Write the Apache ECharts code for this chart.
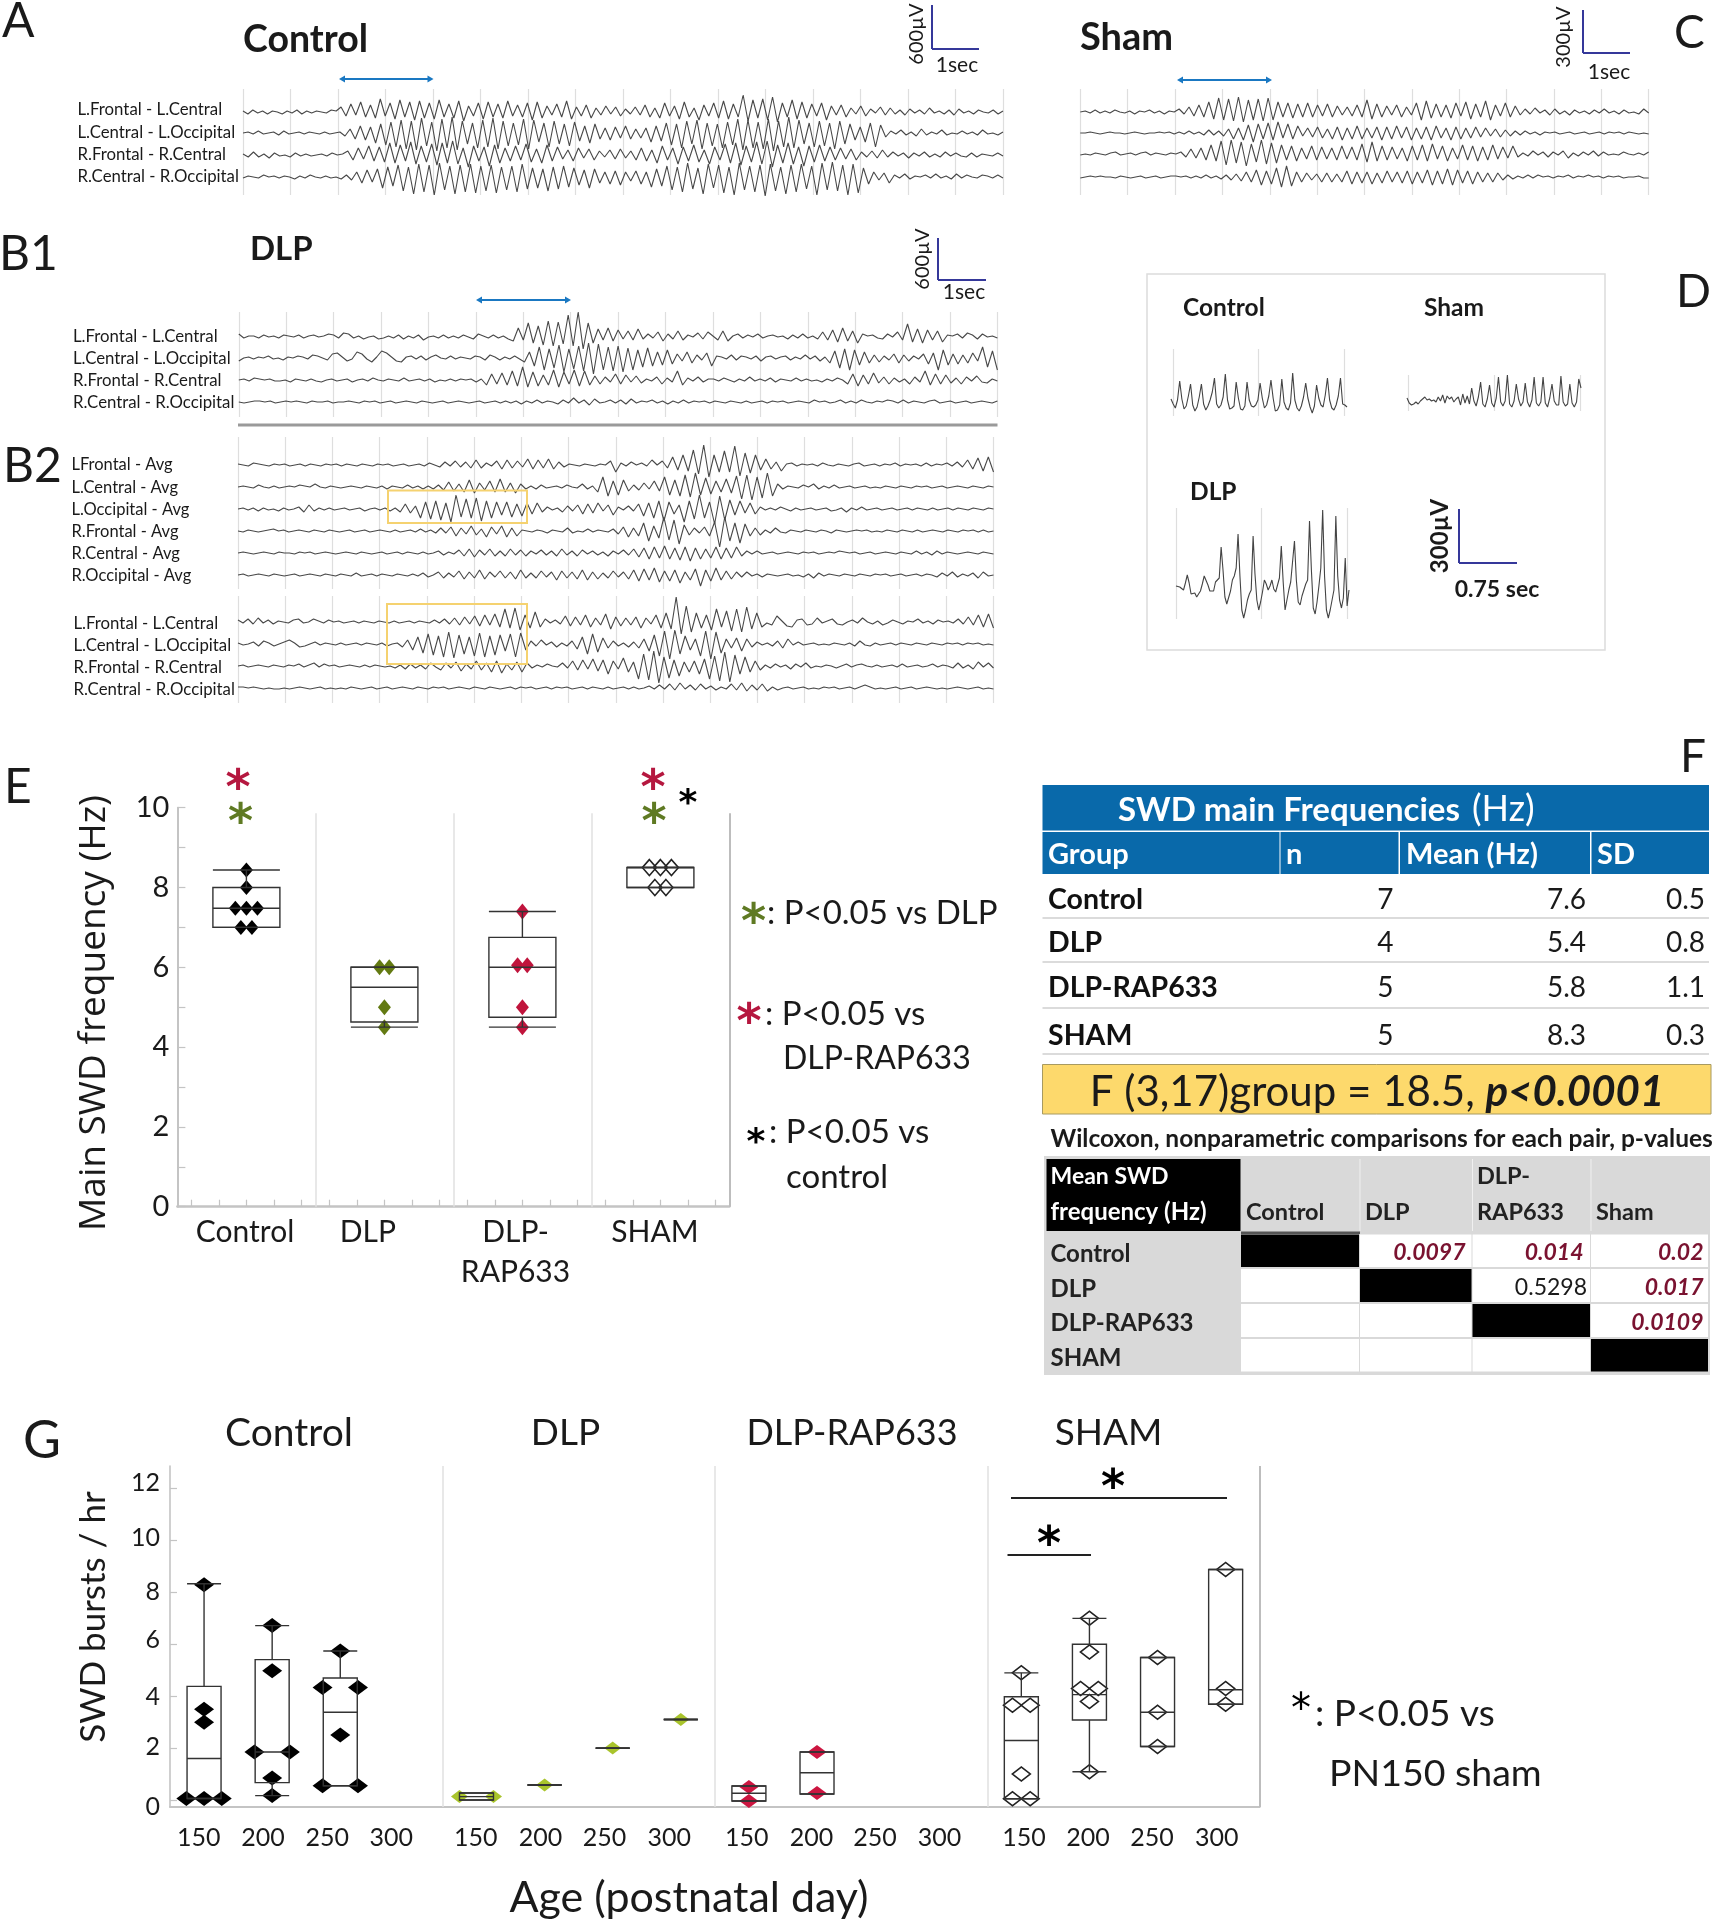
<!DOCTYPE html>
<html><head><meta charset="utf-8">
<style>html,body{margin:0;padding:0;background:#fff}#c{width:1724px;height:1920px}</style>
<script src="https://cdn.jsdelivr.net/npm/echarts@6/dist/echarts.min.js"></script></head>
<body><div id="c"></div>
<script>
// ---------- EEG traces, values read by eye (1 unit = 1 px of amplitude, up is positive) ----------
const aLFC=[1,-2,2,-1,1,-2,1,0,-2,1,-1,2,-2,1,-1,1,0,-1,2,1,5,-4,8,-3,10,-5,7,-6,13,-4,9,-7,12,-5,10,-8,11,-6,9,-7,12,-5,8,-6,11,-9,6,-4,9,-7,10,-5,8,-6,11,-4,7,-5,9,-8,10,-6,6,-3,8,-5,11,-7,5,-4,7,-6,4,-3,6,-2,5,-4,3,-2,5,-3,7,-5,4,-6,9,-4,6,-7,10,-5,4,-8,7,-4,9,-6,11,-7,8,-5,17,-9,12,-6,13,-8,15,-10,9,-5,12,-7,10,-6,8,-4,9,-8,6,-3,7,-5,4,-2,6,-4,3,-1,5,-3,4,-2,2,-3,3,-1,2,-2,4,-1,1,-2,2,-3,3,-1,1,-2,2,0,-1,2,-2,1];
const aLCO=[0,1,-1,2,-1,0,1,-2,2,-1,0,1,-1,1,0,-1,1,-1,0,1,-3,4,-6,7,-7,6,-10,9,-12,11,-14,13,-16,12,-17,15,-13,11,-18,14,-15,16,-17,12,-11,10,-15,13,-14,15,-16,12,-13,10,-12,14,-16,13,-9,10,-14,12,-11,9,-13,11,-8,7,-10,9,-6,5,-7,6,-5,7,-6,4,-5,5,-9,7,-8,10,-12,9,-15,12,-11,13,-16,10,-13,9,-15,11,-12,14,-17,13,-15,11,-16,14,-18,12,-14,16,-15,13,-11,10,-14,12,-13,10,-16,12,-11,9,-7,6,-9,10,-14,8,-4,2,-1,3,-2,1,-3,4,-2,1,-1,3,-2,0,-1,2,-1,1,-2,3,-1,0,-2,1];
const aRFC=[1,-2,3,-2,1,-3,2,-1,0,-2,2,-1,1,-1,0,1,-1,2,0,1,4,-5,7,-4,9,-6,8,-7,12,-8,10,-6,13,-9,9,-7,11,-10,12,-8,14,-9,7,-12,9,-6,8,-11,10,-8,7,-6,9,-5,11,-7,6,-8,10,-6,8,-4,5,-6,7,-3,6,-5,4,-2,5,-4,6,-3,4,-5,7,-6,5,-8,9,-5,7,-9,8,-6,10,-7,5,-9,8,-5,11,-8,12,-10,9,-7,13,-9,14,-12,10,-8,12,-9,8,-11,9,-7,10,-6,8,-5,7,-4,6,-5,3,-2,4,-3,5,-2,3,-1,2,-3,2,-1,3,-2,1,-2,3,-1,2,-1,-2,2,-2,1,0,-1,2,-1];
const aRCO=[-1,1,0,-1,2,0,1,-1,1,0,-2,1,-1,2,0,-1,1,-1,0,-2,2,-3,5,-6,7,-5,8,-11,10,-9,12,-14,10,-17,13,-15,12,-18,14,-13,11,-17,12,-15,13,-16,11,-14,12,-16,10,-13,11,-15,13,-12,9,-11,8,-14,10,-12,11,-10,9,-8,7,-11,8,-6,5,-7,6,-8,5,-4,6,-7,5,-10,8,-9,11,-13,10,-15,14,-12,9,-17,13,-11,12,-16,10,-18,14,-13,11,-15,12,-19,13,-14,10,-17,12,-15,13,-12,11,-18,14,-13,15,-14,12,-18,13,-16,9,-7,5,-3,4,-6,2,-1,3,-2,1,0,2,-1,3,-1,1,-2,3,-1,2,0,-1,2,1,-1,2,-1];
const cLFC=[0,1,-1,2,-1,1,-1,2,0,-1,1,-2,1,0,2,-1,1,-2,1,0,3,-2,5,-4,7,-5,10,-7,14,-8,13,-9,15,-10,12,-8,13,-9,14,-8,10,-5,9,-6,8,-5,9,-5,7,-4,8,-5,6,-3,5,-4,7,-5,12,-7,8,-5,6,-3,7,-5,5,-3,9,-8,11,-6,8,-5,7,-6,9,-4,10,-7,8,-5,11,-8,7,-4,9,-5,6,-3,3,-2,4,-1,2,-3,3,-2,1,-3,2,-1,1,-2,2,-1,3,-1,1,-2,2,-1,0,-2,3,-1];
const cLCO=[0,0,1,0,-1,0,1,0,0,-1,0,1,0,-1,0,0,1,0,1,-1,1,-1,2,-1,1,-2,3,-2,2,-3,4,-6,5,-7,8,-9,9,-6,10,-7,11,-5,9,-6,7,-3,5,-4,6,-5,4,-6,6,-7,5,-6,7,-6,5,-5,6,-7,6,-6,7,-5,6,-7,5,-6,6,-7,7,-5,5,-7,6,-6,5,-5,6,-4,5,-3,4,-4,3,-3,2,-2,2,-1,1,-2,1,0,1,-1,0,1,-1,0,1,-1,0,1,-1,1,0,1,-1,1,0,-1,0,-1];
const cRFC=[-1,0,-1,1,0,-1,1,2,-1,0,1,-1,1,2,-1,1,0,-1,1,0,2,-3,5,-4,6,-6,9,-7,13,-11,14,-9,12,-12,10,-8,14,-10,11,-9,9,-6,8,-7,6,-5,8,-6,7,-5,6,-6,8,-5,7,-6,10,-8,12,-7,8,-6,7,-5,6,-7,8,-6,9,-7,10,-5,8,-7,6,-5,9,-6,8,-7,7,-6,9,-5,7,-4,8,-3,1,-2,3,-1,2,-3,2,-1,3,-4,1,-2,2,-1,3,-2,2,-1,0,-1,2,0,-1,1,-1,2];
const cRCO=[-1,0,1,0,1,0,0,-1,1,0,-1,0,1,-1,0,1,-1,0,1,1,0,1,-1,1,-1,2,-1,1,-2,2,-3,3,-4,5,-5,7,-8,6,-7,9,-10,11,-9,5,-5,4,-3,3,-5,4,-5,3,-5,6,-7,5,-6,5,-7,4,-6,6,-5,5,-6,6,-7,5,-6,7,-8,6,-7,8,-8,7,-6,6,-7,5,-5,4,-5,4,-3,2,-2,1,-1,2,-1,2,0,1,-1,1,0,2,-1,1,0,2,0,1,-1,1,0,1,-1,0,0,1,-1,-1];
const b1LFC=[3,-1,1,1,-1,2,0,1,-1,2,1,0,2,-1,1,2,0,1,3,2,-1,4,3,-1,1,-2,0,1,-2,-1,1,-1,2,-2,1,-1,2,-3,0,1,-1,2,-1,1,-1,2,0,-2,3,1,-1,2,-1,1,-2,-4,9,-3,14,-6,11,-8,16,-9,15,-7,22,-9,25,-12,14,-6,8,-3,9,-4,7,-2,6,-3,8,-2,3,-1,5,-4,3,-2,6,-3,2,0,4,-2,5,1,-3,6,-4,1,3,-1,2,0,3,-1,1,2,0,1,-2,2,-1,3,-1,1,-2,5,-3,7,-5,9,-4,6,-6,3,1,2,-1,-2,3,0,5,-3,13,-5,8,-6,7,-3,6,-5,2,1,3,-1,4,2,-2,3,0,1,-1];
const b1LCO=[-3,0,1,-1,1,0,2,-1,0,-2,1,0,2,1,-1,3,2,0,-2,4,5,1,-3,-1,6,4,-1,-4,1,7,5,1,-3,-4,1,2,-1,2,-2,1,3,0,-1,2,-1,1,0,-1,2,1,-2,3,1,-2,1,-1,2,-1,-4,6,-8,11,-12,9,-10,13,-14,9,-11,12,-13,15,-16,14,-12,11,-13,12,-14,10,-12,8,-9,10,-8,6,-7,8,-6,4,-3,6,-5,3,-2,5,-8,2,1,-1,3,-2,2,1,-1,2,-3,1,2,-1,1,2,-2,1,-1,3,-1,2,-3,1,-5,7,-10,9,-12,8,-7,6,-5,3,-4,2,-2,4,-5,3,-3,2,-1,4,-6,5,-12,8,-7,4,-6,3,-5,5,-3,11,-9,7,-12];
const b1RFC=[0,1,-1,2,1,0,1,-1,-1,0,-2,1,0,-1,1,-1,-2,0,1,-1,0,1,-2,0,1,-1,2,0,-1,1,0,-1,2,-1,0,1,-1,1,-2,0,-1,1,-1,1,0,1,-2,1,-5,6,-4,7,-5,9,-6,13,-7,8,-6,5,-5,10,-7,8,-4,10,-6,9,-5,4,-4,3,-2,6,-4,5,-2,4,-3,1,-1,3,-4,2,-2,9,-5,2,-1,3,-2,1,1,-1,2,0,-2,1,-1,3,-1,1,-1,2,-2,1,0,-1,2,-1,1,-1,0,-2,1,-1,2,0,-4,6,-6,5,-4,7,-3,3,-4,2,-2,1,-4,3,-2,9,-5,6,-4,5,-3,2,-4,3,-1,4,-2,-3,1,-1];
const b1RCO=[0,-1,0,1,1,0,1,-1,0,1,0,1,0,-1,1,0,0,1,-1,0,0,1,0,-1,1,0,1,-1,0,1,-1,0,1,0,-1,1,0,-1,0,1,-1,0,1,0,-1,0,1,-1,0,1,-1,1,-1,1,-2,1,-1,2,-1,1,0,-2,2,-1,4,-1,2,-3,3,-1,0,2,-1,2,-2,3,-1,1,0,2,-1,1,-2,1,-1,2,-1,1,0,1,-1,1,0,-1,1,0,-1,1,-1,0,1,-1,1,0,1,-1,0,1,0,-1,2,0,1,-1,0,2,-1,1,-1,2,0,-1,1,0,2,1,-1,2,-1,1,0,-1,1,2,-1,0,1,-1,0,1,-1,0,1,0,-1,1];
const b2a1=[1,0,-1,2,1,0,-1,1,0,1,-1,0,1,-1,1,0,-1,1,0,1,-1,1,0,-1,1,0,-1,1,0,1,-1,0,1,-1,0,1,-1,2,0,-2,3,-1,4,-2,3,-3,5,-3,2,-1,4,-4,5,-3,4,-2,6,-4,5,-3,6,-4,3,-2,1,0,-1,1,0,-1,1,0,4,-7,2,-1,3,0,2,-1,5,0,4,-3,8,-5,10,-6,15,-9,20,-12,10,-7,14,-7,19,-11,12,-8,10,-5,6,-4,3,-6,1,2,-1,1,0,1,-1,2,0,-1,1,0,-1,1,2,-1,0,1,-1,1,0,2,-1,1,0,1,-1,2,-1,1,0,2,-1,3,-2,5,-4,7,-6,8,-7];
const b2a2=[0,1,0,-1,2,0,-1,1,-1,0,1,0,2,1,0,3,0,-1,1,0,-1,0,1,0,-1,1,0,-1,1,-2,1,0,-1,2,-1,1,-2,1,-2,2,-3,5,-4,3,-5,7,-6,4,-3,6,-5,8,-5,4,-6,3,-2,1,-2,2,-1,0,1,-1,2,0,-1,3,-2,1,-5,10,-9,6,-8,7,-4,2,-3,4,-2,6,-4,10,-8,7,-9,12,-10,14,-8,9,-7,6,-5,8,-6,11,-12,12,-13,10,-11,14,-9,3,-2,1,0,-1,2,0,3,-2,1,-1,2,-1,0,1,-1,0,1,-1,0,-1,1,0,-1,1,0,-1,1,0,1,-1,0,1,-1,0,1,0,-1,1,0,-1,1,0];
const b2a3=[0,1,-1,1,-2,1,-1,0,-2,1,-1,0,2,-3,4,-2,1,-1,1,-1,0,1,-1,0,1,-2,0,1,-1,1,-2,1,-3,5,-4,3,-9,7,-10,8,-11,6,-13,14,-8,10,-9,11,-12,8,-9,7,-6,7,-8,5,-7,6,-5,6,-3,2,-1,1,-3,3,-2,4,-5,5,-4,6,-2,4,-6,2,-1,3,-2,5,-7,6,-9,8,-12,7,-5,4,-13,8,-10,14,-9,7,-15,13,-11,9,-6,8,-4,6,-5,2,-1,1,-1,2,0,-2,1,-1,0,1,-1,0,1,-2,-1,1,-3,1,-1,2,-1,0,1,-1,0,1,-1,0,1,-1,1,0,-1,1,-1,0,1,-1,1,0,-1,1,0,-1,1,0];
const b2a4=[0,-1,1,0,-1,0,1,2,0,1,-1,0,1,0,-1,1,0,-1,1,0,-1,0,1,-1,0,1,-1,0,1,0,-1,1,-1,0,1,-1,2,-1,1,-2,3,-2,4,-5,3,-3,5,-4,2,-6,4,-3,5,-6,3,-5,1,0,-1,1,0,-2,1,0,-1,3,-2,0,-1,2,-1,1,0,-1,2,-3,4,-6,3,-5,8,-10,5,-7,14,-9,11,-13,6,-4,3,-2,4,-5,9,-16,14,-10,8,-12,7,-5,3,-4,1,-2,3,-1,-2,1,0,-1,1,0,-1,1,0,-2,1,0,-1,0,1,0,1,-1,0,-1,1,0,-1,1,0,-1,1,-1,0,1,0,-1,1,0,-1,1,0,1,-1,1,-1,0];
const b2a5=[0,1,0,-1,0,1,0,-1,1,0,0,-1,1,0,1,-1,0,1,0,-1,0,1,0,-1,1,0,-1,0,1,-1,0,1,-1,1,0,-1,1,-1,0,2,-2,1,-1,3,-3,4,-4,3,-2,4,-3,2,-3,4,-2,3,-3,2,-1,3,-2,2,-3,4,-2,2,-3,3,-1,2,-2,1,-3,2,-1,3,-2,4,-4,5,-6,6,-5,7,-6,5,-7,6,-8,5,-6,4,-5,6,-6,5,-5,6,-3,2,-1,2,-1,0,1,-1,0,1,0,-1,1,0,1,-1,0,1,0,2,1,0,1,-1,0,1,-1,0,1,0,-1,1,0,-1,2,-1,1,-2,2,-1,1,0,-1,0,1,0,-1,1,0,-1];
const b2a6=[0,1,-1,0,1,0,-1,1,0,-1,0,1,-1,0,1,0,-1,1,0,-1,1,0,-1,2,-1,0,1,-1,1,0,-1,1,0,-1,1,-1,2,-2,0,3,-3,2,-2,4,-4,3,-3,5,-4,3,-2,4,-3,3,-4,5,-3,2,-3,4,-2,3,-5,4,-3,3,-4,5,-5,3,-4,2,-3,4,-2,3,-4,5,-6,6,-5,7,-7,4,-6,5,-8,3,-5,6,-11,5,-6,7,-5,4,-4,3,-2,3,-1,1,-2,1,0,-1,0,1,-1,0,-2,1,-3,2,-1,1,0,-1,1,0,-1,1,0,-1,1,0,1,-1,0,1,-1,0,1,-1,1,0,-2,2,-1,3,-2,1,-1,2,-3,3,-1,0];
const b2b1=[2,-1,3,-2,4,-1,2,-2,1,0,-1,2,3,-1,0,3,1,-1,2,0,1,-1,0,1,-1,1,0,-1,1,0,-1,1,-1,0,1,-1,1,0,-1,2,-1,3,-2,4,-3,5,-2,6,-4,7,-3,8,-5,13,-6,14,-8,7,-6,10,-5,3,-1,2,-2,6,-4,5,-3,7,-5,4,-3,8,-7,5,-4,4,-3,5,-6,4,-2,7,-6,9,-7,25,-12,16,-10,9,-6,7,-8,13,-5,11,-9,13,-10,15,-7,9,-5,-1,-3,6,1,-4,-5,2,3,-3,-2,4,-1,1,3,-2,-3,0,2,-1,4,0,-2,1,-3,-1,2,0,-2,1,0,3,-1,1,-2,2,0,1,-1,3,-2,5,-3,7,-5,8,-6];
const b2b2=[1,-1,0,2,-2,3,1,-2,0,2,4,1,-3,-2,0,2,-1,1,0,-1,1,-1,0,1,-1,1,0,-1,1,-2,0,1,-3,4,-6,7,-9,10,-11,8,-13,12,-14,9,-10,7,-12,11,-13,8,-11,9,-7,10,-13,11,-6,3,-2,4,-1,2,-3,1,-2,3,-5,7,-10,10,-8,6,-4,3,-2,1,-3,2,-4,5,-7,9,-12,13,-15,14,-10,8,-6,5,-12,13,-15,12,-9,5,-4,6,-7,5,-3,2,-1,1,-2,3,-4,5,-1,2,-1,0,1,-1,0,-1,1,0,-1,1,-2,3,-1,-2,1,-1,0,1,-1,1,0,-1,1,0,-1,1,0,-1,1,0,1,-1,1,0,1,-1,0,-1];
const b2b3=[0,1,-1,0,1,0,-1,1,0,-1,1,0,2,-1,1,3,-1,2,0,1,-1,0,1,0,-1,1,-1,1,0,-1,0,-2,1,-3,2,-2,1,-3,3,-1,-4,3,-2,4,-5,2,-3,5,-4,3,-6,5,-7,2,-4,4,-6,3,-2,1,-1,2,0,-1,3,-2,5,-4,6,-3,7,-5,6,-8,5,-3,8,-6,4,-13,12,-14,15,-17,9,-12,6,-10,4,-6,5,-8,7,-13,10,-15,14,-16,11,-8,9,-6,5,-4,1,-2,2,-1,1,-3,2,-1,3,-2,0,-1,1,0,-2,0,2,-1,1,2,0,-1,1,-1,0,1,-1,2,-1,0,1,-1,0,2,-1,1,0,-2,3,-2,1,-3,4,-1,3,-2];
const b2b4=[1,1,0,1,0,-1,0,-1,-1,0,-1,0,1,0,-1,0,1,-1,0,-1,0,-1,1,0,-1,0,1,-1,0,1,-1,0,1,0,-1,1,0,-1,1,0,1,-1,0,1,0,-1,1,0,-1,1,0,-1,0,1,-1,1,0,1,-1,0,1,-1,1,0,1,-1,0,1,-1,1,0,-1,1,-1,0,1,-1,1,-1,0,2,-1,3,-1,4,-2,5,-1,3,-2,4,-1,2,-2,1,-1,4,-2,5,-3,3,-2,4,-3,1,-2,0,1,-1,0,1,-1,0,-1,1,0,1,-1,0,1,-1,1,3,1,-1,0,-1,0,1,-1,0,1,-1,0,1,0,-1,0,-1,0,1,0,-1,0,1,-1,0,-1];
const dControl=[3,-2,-6,2,21,3,-7,-4,6,18,-3,-9,-5,5,18,-2,-8,-4,2,10,24,-2,-6,-3,5,28,2,-7,-6,-4,20,4,-7,-8,-4,20,2,-4,-5,-3,2,19,4,-6,-3,6,22,4,-9,-8,-3,23,0,-6,-8,-1,29,2,-6,-9,-4,5,19,4,-5,-11,-4,17,4,-3,-5,7,24,2,-6,-8,-3,6,24,-2,-3,-5];
const dSham=[2,-3,-5,-4,-2,-4,-1,1,3,0,1,-1,0,-2,3,-1,5,-3,4,1,3,-2,1,3,-5,6,-3,4,-4,12,-1,-6,3,18,-4,-7,1,15,-3,-7,2,23,-2,-6,-1,25,-4,-7,-1,16,1,-6,-2,17,-2,-7,0,23,-3,-6,-2,23,-3,-7,2,16,-1,-5,-5,24,-2,-6,-4,16,-3,-7,-2,21,12];
const dDLP=[2,0,1,-1,-2,5,13,5,-6,-8,-5,-9,-6,-3,4,12,13,3,-3,-2,-3,6,8,10,41,18,-9,-16,-14,-3,8,12,20,54,12,-22,-30,-22,-12,-6,-2,52,14,-12,-22,-14,-4,8,4,-2,2,8,-1,-4,-2,10,42,6,-22,-12,-2,6,4,47,8,-14,-17,-8,-2,4,8,67,18,-20,-26,-14,2,20,78,12,-22,-30,-22,-12,-2,72,12,-12,-20,-10,30,-18,-2];
// ---------- Panel E: main SWD frequency ----------
const eCategories=['Control','DLP','DLP-\nRAP633','SHAM'];
// x, low whisker, Q1, median, Q3, high whisker
const eBoxes=[[0.5,7.0,7.0,7.48,8.0,8.44],[1.5,4.5,4.63,5.5,6.0,6.0],[2.5,4.5,4.75,6.0,6.75,7.4],[3.5,8.0,8.0,8.5,8.5,8.5]];
const eControl=[[0.5,8.44],[0.5,8.0],[0.42,7.48],[0.5,7.48],[0.58,7.48],[0.46,7.0],[0.54,7.0]];
const eDLP=[[1.465,6.0],[1.535,6.0],[1.5,5.0],[1.5,4.5]];
const eRAP=[[2.465,6.05],[2.535,6.05],[2.5,7.4],[2.5,5.0],[2.5,4.5]];
const eSHAM=[[3.42,8.5],[3.5,8.5],[3.58,8.5],[3.46,8.0],[3.54,8.0]];
// ---------- Panel G: SWD bursts per hour ----------
const gAgeLabels=['150','200','250','300'];
const gGroups=['Control','DLP','DLP-RAP633','SHAM'];
const gYLabels=['0','2','4','6','8','10','12'];
const gBoxes=[[0.5,0.06,0.06,1.6,4.38,8.33],[1.5,0.17,0.67,1.85,5.41,6.72],[2.5,0.55,0.55,3.38,4.7,5.74],
 [4.5,0,0,0.13,0.27,0.27],[5.5,0.58,0.58,0.58,0.58,0.58],[6.5,2,2,2,2,2],[7.5,3.1,3.1,3.1,3.1,3.1],
 [8.5,-0.04,-0.04,0.26,0.54,0.54],[9.5,0.23,0.23,1.05,1.85,1.85],
 [12.5,0.05,0.05,2.29,3.98,4.9],[13.5,1.09,3.08,4.06,6.0,7.0],[14.5,2.06,2.06,3.38,5.49,5.49],[15.5,3.69,3.69,4.25,8.88,8.88]];
const gControl=[[0.5,8.29],[0.5,3.5],[0.5,3.0],[0.24,0.06],[0.5,0.06],[0.76,0.06],[1.5,6.72],[1.5,4.98],[1.24,1.85],[1.76,1.85],[1.5,0.85],[1.5,0.17],[2.5,5.74],[2.24,4.33],[2.76,4.33],[2.5,2.5],[2.24,0.55],[2.76,0.55]];
const gDLP=[[4.25,0.13],[4.75,0.13],[5.5,0.58],[6.5,2.0],[7.5,3.1]];
const gRAP=[[8.5,0.5],[8.5,-0.04],[9.5,1.85],[9.5,0.27]];
const gSHAM=[[12.5,4.9],[12.37,3.65],[12.63,3.65],[12.5,1.0],[12.37,0.05],[12.63,0.05],[13.5,7.0],[13.5,5.7],[13.37,4.3],[13.63,4.3],[13.5,3.8],[13.5,1.09],[14.5,5.49],[14.5,3.38],[14.5,2.06],[15.5,8.88],[15.5,4.3],[15.5,3.69]];
// ---------- Panel F tables ----------
const fHeaders=['Group','n','Mean (Hz)','SD'];
const fGroups=['Control','DLP','DLP-RAP633','SHAM'];
const fN=['7','4','5','5'];
const fMean=['7.6','5.4','5.8','8.3'];
const fSD=['0.5','0.8','1.1','0.3'];
const wRows=['Control','DLP','DLP-RAP633','SHAM'];
const wCells=[[null,'0.0097','0.014','0.02'],[null,null,'0.5298','0.017'],[null,null,null,'0.0109'],[null,null,null,null]];
const wSignificant=[[0,1,1,1],[0,0,0,1],[0,0,0,1],[0,0,0,0]];

// ---------- layout ----------
const FONT='Lato', INK='#1a1a1a', BAR='#35389a', ARROW='#1a78c2', UP=Math.PI/2;
const g=[], grids=[], xAxes=[], yAxes=[], series=[];
function txt(t,x,y,size,o={}){g.push({type:'text',x,y,rotation:o.rot||0,z:50,style:{text:t,fontFamily:o.font||FONT,fontSize:size,fontWeight:o.w||'normal',fontStyle:o.it||'normal',fill:o.c||INK,textAlign:o.a||'left',textVerticalAlign:'middle',rich:o.rich}});}
function rect(x,y,w,h,fill,stroke,lw){g.push({type:'rect',z:5,shape:{x,y,width:w,height:h},style:{fill,stroke:stroke||null,lineWidth:lw||0}});}
function line(x1,y1,x2,y2,c,w,z){g.push({type:'line',z:z||20,shape:{x1,y1,x2,y2},style:{stroke:c,lineWidth:w}});}
function arrow(x1,x2,y){line(x1+4,y,x2-4,y,ARROW,2);
 g.push({type:'polygon',z:20,shape:{points:[[x1,y],[x1+6,y-3.5],[x1+6,y+3.5]]},style:{fill:ARROW}});
 g.push({type:'polygon',z:20,shape:{points:[[x2,y],[x2-6,y-3.5],[x2-6,y+3.5]]},style:{fill:ARROW}});}
function star(x,y,size,c,w){txt('*',x,y,size,{font:'DejaVu Sans',c,w:w||'normal',a:'center'});}
function addGrid(l,t,w,h){grids.push({left:l,top:t,width:w,height:h,containLabel:false});return grids.length-1;}
function panelLines(l,t,w,h,n){const i=addGrid(l,t,w,h);
 xAxes.push({type:'value',gridIndex:i,min:0,max:n,interval:1,axisLine:{show:false},axisTick:{show:false},axisLabel:{show:false},splitLine:{show:true,lineStyle:{color:'#dedede',width:1.2}}});
 yAxes.push({type:'value',gridIndex:i,min:0,max:1,show:false,splitLine:{show:false}});}
function trace(d,l,w,base,half,col){const i=addGrid(l,base-half,w,half*2);
 xAxes.push({type:'category',gridIndex:i,show:false,boundaryGap:false,data:d.map((_,k)=>k)});
 yAxes.push({type:'value',gridIndex:i,show:false,min:-half,max:half,splitLine:{show:false}});
 series.push({type:'line',xAxisIndex:i,yAxisIndex:i,data:d,symbol:'none',silent:true,clip:false,z:4,lineStyle:{color:col||'#484848',width:1.1}});}

// panel letters
[['A',2,22,48],['C',1674,33,46],['B1',-1,255,48],['B2',3,467,48],['D',1676,292,46],['E',4,788,48],['F',1680,757,46],['G',23,1441,52]].forEach(p=>txt(p[0],p[1],p[2],p[3]));

// A: control EEG
const bipolar=['L.Frontal - L.Central','L.Central - L.Occipital','R.Frontal - R.Central','R.Central - R.Occipital'];
txt('Control',243,40,37.5,{w:'bold'});
panelLines(243,89,760,106,16);
[aLFC,aLCO,aRFC,aRCO].forEach((d,i)=>trace(d,243,760,[112,133,155,177][i],30));
bipolar.forEach((s,i)=>txt(s,77.5,[110,133,155,177][i],16.8));
arrow(339,433.5,79);
line(932,5,932,49,BAR,2);line(932,49,979,49,BAR,2);
txt('600µV',917,34,20,{rot:UP,a:'center'});txt('1sec',957,65,21,{a:'center'});
// C: sham EEG
txt('Sham',1080,38,38,{w:'bold'});
panelLines(1080.3,89,568.4,106,12);
[cLFC,cLCO,cRFC,cRCO].forEach((d,i)=>trace(d,1080.3,568.4,[112,133,154,177][i],30));
arrow(1177,1272,80);
line(1583,10,1583,53,BAR,2);line(1583,53,1630,53,BAR,2);
txt('300µV',1564,37,20,{rot:UP,a:'center'});txt('1sec',1609,72,21,{a:'center'});
// B1
txt('DLP',250,249,33,{w:'bold'});
panelLines(238.8,312,758.6,105,16);
[b1LFC,b1LCO,b1RFC,b1RCO].forEach((d,i)=>trace(d,238.8,758.6,[337,358,380,402][i],30));
bipolar.forEach((s,i)=>txt(s,73,[337,359,381,403][i],16.8));
arrow(476,571,300);
line(938,238,938,280,BAR,2);line(938,280,986,280,BAR,2);
txt('600µV',923,259,20,{rot:UP,a:'center'});txt('1sec',964,292,21,{a:'center'});
line(238,425,997.5,425,'#9a9a9a',3);
// B2
panelLines(238,437,755.5,152,16);
[b2a1,b2a2,b2a3,b2a4,b2a5,b2a6].forEach((d,i)=>trace(d,238,755.5,[465,487,509,531,553,575][i],30));
['LFrontal - Avg','L.Central - Avg','L.Occipital - Avg','R.Frontal - Avg','R.Central - Avg','R.Occipital - Avg'].forEach((s,i)=>txt(s,71.5,[465,488,510,532,554,576][i],16.5));
panelLines(238,596,755.5,107,16);
[b2b1,b2b2,b2b3,b2b4].forEach((d,i)=>trace(d,238,755.5,[622,644,666,688][i],30));
bipolar.forEach((s,i)=>txt(s,73.5,[624,646,668,690][i],16.8));
g.push({type:'rect',z:21,shape:{x:388,y:490.5,width:139,height:32.5},style:{fill:'none',stroke:'#f5d270',lineWidth:2}});
g.push({type:'rect',z:21,shape:{x:387,y:604,width:140,height:60},style:{fill:'none',stroke:'#f5d270',lineWidth:2}});
// D
g.push({type:'rect',z:1,shape:{x:1147,y:274,width:458,height:376},style:{fill:'none',stroke:'#dcdcdc',lineWidth:1.5}});
txt('Control',1183,308,24.5,{w:'bold'});txt('Sham',1424,308,24.5,{w:'bold'});txt('DLP',1190,492,24.5,{w:'bold'});
panelLines(1173,349,171,67,2);trace(dControl,1171,176,402,40,'#444');
panelLines(1408,375,172,36,2);trace(dSham,1407,174,400,40,'#444');
panelLines(1176,508,171,111,2);trace(dDLP,1176,173,588,90,'#444');
line(1459,509,1459,563,BAR,2);line(1459,563,1517,563,BAR,2);
txt('300µV',1440,536,24,{rot:UP,a:'center',w:'bold'});txt('0.75 sec',1497,590,23,{a:'center',w:'bold'});

// E chart
function boxSeries(data,xi,yi,halfW){return {type:'custom',xAxisIndex:xi,yAxisIndex:yi,data,z:8,silent:true,
 encode:{x:0,y:[1,2,3,4,5]},
 renderItem(p,api){const x=api.value(0),C=v=>api.coord([x,v]),cx=C(0)[0];
  const y0=C(api.value(1))[1],q1=C(api.value(2))[1],m=C(api.value(3))[1],q3=C(api.value(4))[1],y1=C(api.value(5))[1];
  const st={stroke:'#333',lineWidth:1.4,fill:null};const L=(a,b,c,d)=>({type:'line',shape:{x1:a,y1:b,x2:c,y2:d},style:st});
  return {type:'group',children:[
   L(cx,y1,cx,q3),L(cx,y0,cx,q1),L(cx-halfW,y1,cx+halfW,y1),L(cx-halfW,y0,cx+halfW,y0),
   {type:'rect',shape:{x:cx-halfW,y:q3,width:halfW*2,height:q1-q3},style:st},L(cx-halfW,m,cx+halfW,m)]};}};}
function dots(data,xi,yi,size,fill,stroke){return {type:'scatter',xAxisIndex:xi,yAxisIndex:yi,data,symbol:'diamond',symbolSize:size,silent:true,z:6,
 itemStyle:{color:fill,borderColor:stroke||fill,borderWidth:stroke?1.6:0,opacity:1}};}
function seps(pos,lo,hi,xi,yi){return {type:'line',xAxisIndex:xi,yAxisIndex:yi,data:[],symbol:'none',silent:true,z:3,
 markLine:{silent:true,animation:false,symbol:'none',label:{show:false},data:pos.map((p,k)=>[{coord:[p,lo],lineStyle:{color:k==pos.length-1?'#bdbdbd':'#e0e0e0',width:k==pos.length-1?2:1.5,type:'solid'}},{coord:[p,hi]}])}};}
{
 const i=addGrid(177.4,807.7,552,399);
 const eLabelPos=[0.49,1.38,2.45,3.46];
 xAxes.push({type:'value',gridIndex:i,min:0,max:4,splitLine:{show:false},axisLine:{onZero:false,lineStyle:{color:'#c4c4c4',width:2.5}},
  axisTick:{customValues:[0.1,0.3,0.5,0.7,0.9,1.1,1.3,1.5,1.7,1.9,2.1,2.3,2.5,2.7,2.9,3.1,3.3,3.5,3.7,3.9],inside:true,length:7,lineStyle:{color:'#c4c4c4',width:1.2}},
  axisLabel:{customValues:eLabelPos,margin:6,fontFamily:FONT,fontSize:30,color:INK,lineHeight:40,verticalAlign:'top',formatter:v=>eCategories[eLabelPos.indexOf(v)]}});
 yAxes.push({type:'value',gridIndex:i,min:0,max:10,interval:1,splitLine:{show:false},axisLine:{lineStyle:{color:'#c4c4c4',width:2}},
  axisTick:{inside:true,length:8,lineStyle:{color:'#c4c4c4',width:1.2}},
  axisLabel:{margin:8,fontFamily:FONT,fontSize:29,color:INK,customValues:[0,2,4,6,8,10]}});
 series.push(seps([1,2,3,4],0,9.86,i,i));
 series.push(dots(eControl,i,i,[13,15],'#000'));series.push(dots(eDLP,i,i,[13,16],'#637a12'));series.push(dots(eRAP,i,i,[13,16],'#c0143c'));series.push(dots(eSHAM,i,i,[14,16],'rgba(255,255,255,0)','#222'));
 series.push(boxSeries(eBoxes,i,i,33.5));
}
txt('Main SWD frequency (Hz)',94,1013,37,{font:'Open Sans',rot:UP,a:'center'});
star(238,791,48,'#b5173f','bold');star(240.5,825,48,'#5f7a23','bold');star(653,791,48,'#b5173f','bold');star(654,825,48,'#5f7a23','bold');star(688,805,36,'#000','bold');
star(753.5,925,48,'#5f7a23','bold');star(749,1025,48,'#b5173f','bold');star(756,1144,36,'#000','bold');
txt(': P<0.05 vs DLP',767,913,33);txt(': P<0.05 vs',765,1014,33);txt('DLP-RAP633',783,1059,32);txt(': P<0.05 vs',769,1132,33);txt('control',786,1177,33);

// F: frequency table
rect(1042.5,785,666.5,45.5,'#0969aa');rect(1042.5,832,237,42,'#0969aa');rect(1280.5,832,118,42,'#0969aa');rect(1400,832,190,42,'#0969aa');rect(1591.5,832,117.5,42,'#0969aa');
txt('SWD main Frequencies',1118,810,33,{w:'bold',c:'#fff'});txt('(Hz)',1472,809,36,{c:'#fff'});
[1048,1286,1406,1597].forEach((x,i)=>txt(fHeaders[i],x,855,29,{w:'bold',c:'#fff'}));
[899.5,942.5,988,1035.5].forEach((y,i)=>{txt(fGroups[i],1048,y,28.5,{w:'bold',c:'#111'});
 txt(fN[i],1393.5,y,28,{a:'right'});txt(fMean[i],1586,y,28,{a:'right'});txt(fSD[i],1705,y,28,{a:'right'});});
[918,962,1008,1054].forEach(y=>line(1042.5,y,1709,y,'#cfcfcf',1.5));
g.push({type:'rect',z:5,shape:{x:1042.5,y:1064.5,width:668.5,height:49.5},style:{fill:'#fdd96c',stroke:'#a89a60',lineWidth:1}});
txt('F (3,17)group = 18.5, {b|p<0.0001}',1377,1092,42,{a:'center',rich:{b:{fontFamily:FONT,fontSize:42,fontWeight:'bold',fontStyle:'italic',fill:INK}}});
txt('Wilcoxon, nonparametric comparisons for each pair, p-values',1050.5,1139,24.5,{w:'bold'});
// F: Wilcoxon table
rect(1044,1156,666,219,'#d9d9d9');rect(1046.5,1159,194,72,'#000');
txt('Mean SWD',1050.5,1176.5,23,{w:'bold',c:'#fff'});txt('frequency (Hz)',1050.5,1212,24,{w:'bold',c:'#fff'});
const wColX=[1241,1360,1472.5,1591,1709],wRowY=[1234.5,1269,1304,1339,1373.5];
[['Control',1246],['DLP',1365],['RAP633',1477],['Sham',1596]].forEach(h=>txt(h[0],h[1],1212,23.5,{w:'bold',c:'#222'}));
txt('DLP-',1477,1176.5,23.5,{w:'bold',c:'#222'});
rect(1241,1231.5,119,2.5,'#555');
[1360,1472.5,1591].forEach(x=>line(x,1159,x,1231,'#f0f0f0',1));
const cellRight=[0,1465.5,1583.5,1703.5],redInk='#7a1230';
wRows.forEach((r,ri)=>{txt(r,1050.5,[1254.5,1289,1323.5,1358][ri],24,{w:'bold',c:'#222'});
 for(let c=0;c<4;c++){const x=wColX[c],y=wRowY[ri],w=wColX[c+1]-x-1,h=wRowY[ri+1]-y-2;
  rect(x,y,w,h,c==ri?'#000':'#fff');
  const v=wCells[ri][c];if(v){const sig=wSignificant[ri][c];txt(v,sig?cellRight[c]:1587,y+h/2+2,23,{a:'right',c:sig?redInk:INK,w:sig?'bold':'normal',it:sig?'italic':'normal'});}}});

// G chart
{
 const i=addGrid(170,1466,1089.7,341);
 const yLab=[-0.27,2.05,3.98,6.15,8,10.1,12.2];
 const xLab=[0.423,1.366,2.31,3.25,4.49,5.44,6.38,7.33,8.47,9.42,10.35,11.3,12.54,13.48,14.42,15.37];
 xAxes.push({type:'value',gridIndex:i,min:0,max:16,splitLine:{show:false},axisLine:{onZero:false,lineStyle:{color:'#c4c4c4',width:2}},axisTick:{show:false},
  axisLabel:{customValues:xLab,margin:18,fontFamily:FONT,fontSize:25,color:INK,formatter:v=>gAgeLabels[xLab.indexOf(v)%4]}});
 yAxes.push({type:'value',gridIndex:i,min:-0.27,max:12.87,splitLine:{show:false},axisLine:{onZero:false,lineStyle:{color:'#c4c4c4',width:1.6}},
  axisTick:{customValues:[0,2,4,6,8,10,12],inside:true,length:7,lineStyle:{color:'#c4c4c4',width:1.2}},
  axisLabel:{customValues:yLab,margin:10,fontFamily:FONT,fontSize:25,color:INK,formatter:v=>gYLabels[yLab.indexOf(v)]}});
 series.push(seps([4,8,12,16],-0.27,12.87,i,i));
 series.push(dots(gControl,i,i,[20,15],'#000'));series.push(dots(gDLP,i,i,[17,13],'#a9c42c'));series.push(dots(gRAP,i,i,[19,14],'#cc1540'));series.push(dots(gSHAM,i,i,[18,14],'rgba(255,255,255,0)','#222'));
 series.push(boxSeries(gBoxes,i,i,17));
}
[289,565.5,852,1108.5].forEach((x,k)=>txt(gGroups[k],x,1433,[39,37,36,37][k],{a:'center'}));
txt('SWD bursts / hr',94,1617,35,{rot:UP,a:'center'});
txt('Age (postnatal day)',689,1898,43,{a:'center'});
line(1011,1498,1227,1498,'#222',2);line(1007.5,1555,1091,1555,'#222',2);
star(1113,1490,46,'#000','bold');star(1049,1547,46,'#000','bold');star(1301,1712,40,'#000');
txt(': P<0.05 vs',1315,1714,37);txt('PN150 sham',1329,1774,37.5);

const chart=echarts.init(document.getElementById('c'),null,{renderer:'canvas'});
chart.setOption({animation:false,backgroundColor:'#fff',grid:grids,xAxis:xAxes,yAxis:yAxes,series,graphic:{elements:g}});
</script></body></html>
